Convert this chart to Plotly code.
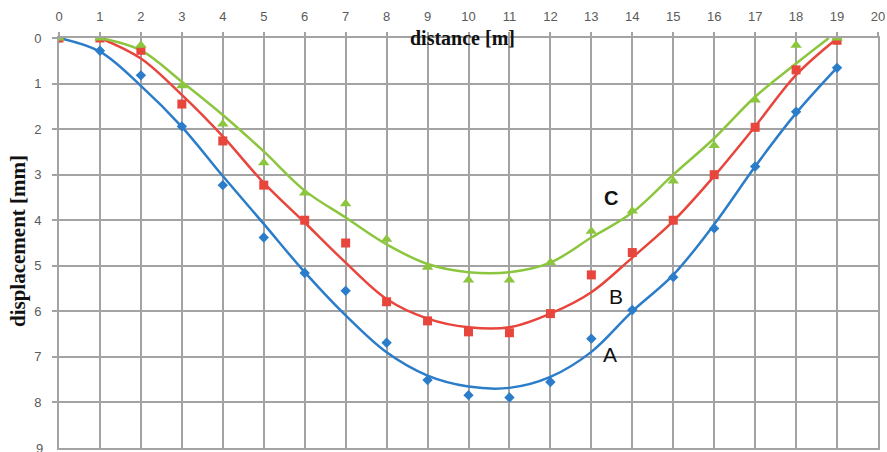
import plotly.graph_objects as go

# measured points
x_pts = list(range(20))
a_pts = [0, 0.28, 0.82, 1.94, 3.23, 4.38, 5.16, 5.55, 6.69, 7.51, 7.84, 7.89, 7.55, 6.6, 5.97, 5.25, 4.18, 2.82, 1.62, 0.655]
b_pts = [0, 0, 0.27, 1.45, 2.26, 3.23, 4.0, 4.5, 5.79, 6.21, 6.45, 6.47, 6.05, 5.2, 4.71, 4.0, 3.0, 1.96, 0.7, 0.05]
c_pts = [0, 0, 0.16, 1.05, 1.89, 2.74, 3.4, 3.64, 4.42, 5.03, 5.31, 5.31, 4.93, 4.24, 3.8, 3.14, 2.36, 1.36, 0.16, 0]

# fitted curves
a_fx = list(range(20))
a_fit = [0, 0.3, 1.05, 1.95, 3.03, 4.08, 5.14, 6.09, 6.9, 7.41, 7.65, 7.68, 7.44, 6.89, 6.0, 5.2, 4.09, 2.82, 1.65, 0.65]
b_fx = list(range(1, 20))
b_fit = [0, 0.45, 1.25, 2.16, 3.18, 4.05, 4.93, 5.73, 6.16, 6.35, 6.35, 6.05, 5.58, 4.82, 4.02, 3.03, 1.94, 0.81, 0.01]
c_fx = [1, 2, 3, 4, 5, 6, 7, 8, 9, 10, 11, 12, 13, 14, 15, 16, 17, 18, 18.8]
c_fit = [0, 0.27, 0.96, 1.69, 2.49, 3.35, 3.94, 4.53, 4.96, 5.14, 5.14, 4.93, 4.38, 3.83, 3.0, 2.2, 1.29, 0.56, 0]

x_ticks = list(range(21))
y_ticks = list(range(9))

blue = "#2b7cc9"
red = "#e8453c"
green = "#8cc63e"
tick_col = "#5a5a5a"

fig = go.Figure()
for fx, fy, col in [(a_fx, a_fit, blue), (b_fx, b_fit, red), (c_fx, c_fit, green)]:
    fig.add_trace(go.Scatter(x=fx, y=fy, mode="lines", line=dict(color=col, width=2.5, shape="spline", smoothing=1.0),
                             hoverinfo="skip", showlegend=False))
fig.add_trace(go.Scatter(x=x_pts, y=a_pts, mode="markers", marker=dict(symbol="diamond", size=8, color=blue), showlegend=False))
fig.add_trace(go.Scatter(x=x_pts, y=b_pts, mode="markers", marker=dict(symbol="square", size=9, color=red), showlegend=False))
fig.add_trace(go.Scatter(x=x_pts, y=c_pts, mode="markers", marker=dict(symbol="triangle-up", size=10, color=green), showlegend=False))

grid = "#a3a3a3"
fig.update_layout(
    width=887, height=452,
    margin=dict(l=59, r=8, t=38, b=2),
    paper_bgcolor="white", plot_bgcolor="white",
    xaxis=dict(range=[0, 20], side="top", tickmode="array", tickvals=x_ticks,
               showgrid=True, gridcolor=grid, gridwidth=2, zeroline=False,
               showline=True, linecolor=grid, linewidth=2, mirror=True,
               ticks="outside", ticklen=4, tickcolor=grid, tickwidth=2, ticklabelstandoff=6,
               tickfont=dict(family="Liberation Sans, Arial", size=13, color=tick_col)),
    yaxis=dict(range=[9, 0], tickmode="array", tickvals=y_ticks,
               showgrid=True, gridcolor=grid, gridwidth=2, zeroline=False,
               showline=True, linecolor=grid, linewidth=2, mirror=True,
               ticks="outside", ticklen=5, tickcolor=grid, tickwidth=2, ticklabelstandoff=8,
               tickfont=dict(family="Liberation Sans, Arial", size=13, color=tick_col)),
    annotations=[
        dict(text="<b>distance [m]</b>", xref="paper", yref="paper", x=0.493, y=1.0, xanchor="center", yanchor="middle",
             showarrow=False, font=dict(family="Liberation Serif, Times New Roman, serif", size=20, color="#111")),
        dict(text="<b>displacement [mm]</b>", xref="paper", yref="paper", x=-0.05, y=0.505, xanchor="center", yanchor="middle",
             textangle=-90, showarrow=False, font=dict(family="Liberation Serif, Times New Roman, serif", size=21, color="#111")),
        dict(text="9", xref="paper", yref="y", x=-0.017, y=9, xanchor="right", yanchor="middle", showarrow=False,
             font=dict(family="Liberation Sans, Arial", size=13, color=tick_col)),
        dict(text="<b>C</b>", x=13.47, y=3.52, showarrow=False, font=dict(family="Liberation Sans, Arial", size=20, color="#111")),
        dict(text="B", x=13.6, y=5.68, showarrow=False, font=dict(family="Liberation Sans, Arial", size=21, color="#111")),
        dict(text="A", x=13.45, y=6.95, showarrow=False, font=dict(family="Liberation Sans, Arial", size=21, color="#111")),
    ],
)
fig.write_html("out.html")
